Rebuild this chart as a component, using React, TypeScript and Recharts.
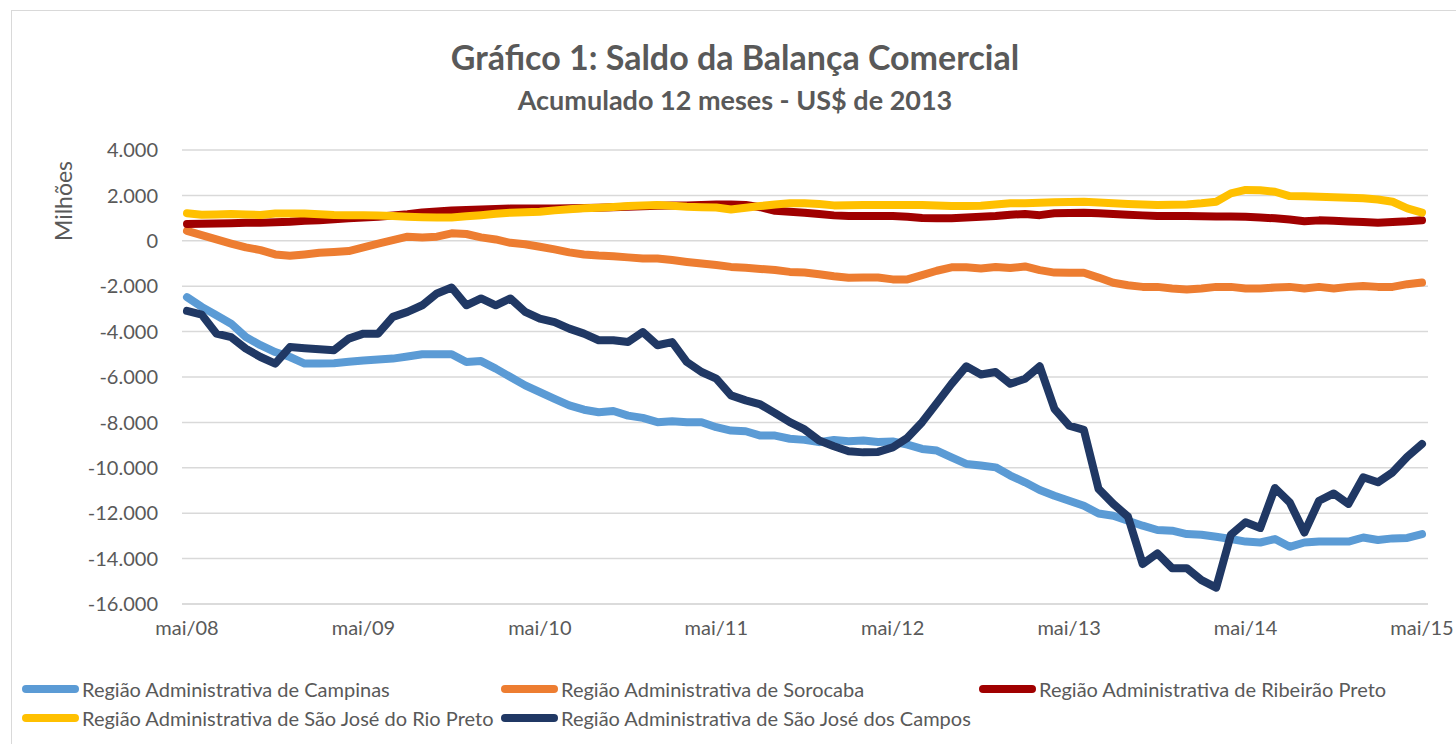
import React from 'react';
import { LineChart, Line, XAxis, YAxis, CartesianGrid } from 'recharts';

const MESES = ['jan', 'fev', 'mar', 'abr', 'mai', 'jun', 'jul', 'ago', 'set', 'out', 'nov', 'dez'];

// mai/08 .. mai/15, mensal
const categorias: string[] = [];
for (let k = 0; k < 85; k++) {
  const m = (4 + k) % 12;
  const a = 8 + Math.floor((4 + k) / 12);
  categorias.push(`${MESES[m]}/${String(a).padStart(2, '0')}`);
}

const yTicks = [-16000, -14000, -12000, -10000, -8000, -6000, -4000, -2000, 0, 2000, 4000];

const campinas = [
  -2480, -2910, -3280, -3650, -4240, -4600, -4900, -5120, -5410, -5400, -5390, -5330, -5270, -5230, -5190, -5100,
  -5000, -5000, -5000, -5340, -5300, -5630, -6000, -6370, -6670, -6960, -7250, -7440, -7550, -7500, -7700, -7800,
  -7990, -7950, -7990, -7990, -8210, -8360, -8390, -8580, -8580, -8720, -8770, -8870, -8770, -8830, -8800, -8860,
  -8840, -8980, -9170, -9240, -9540, -9830, -9900, -9980, -10340, -10640, -10980, -11230, -11450, -11670, -12010,
  -12110, -12330, -12550, -12740, -12770, -12920, -12950, -13040, -13140, -13250, -13290, -13140, -13480, -13290,
  -13250, -13250, -13250, -13070, -13180, -13110, -13090, -12920,
];

const sorocaba = [
  440, 250, 60, -120, -290, -410, -600, -660, -600, -530, -490, -450, -290, -120, 30, 180, 150, 180, 330, 300, 150,
  60, -90, -150, -260, -380, -510, -600, -650, -680, -730, -780, -780, -850, -930, -1000, -1070, -1150, -1190, -1240,
  -1290, -1370, -1400, -1470, -1560, -1630, -1620, -1620, -1700, -1700, -1510, -1320, -1170, -1170, -1220, -1150,
  -1200, -1130, -1290, -1400, -1410, -1410, -1620, -1850, -1960, -2030, -2030, -2100, -2150, -2100, -2030, -2030,
  -2100, -2100, -2060, -2030, -2100, -2030, -2100, -2030, -1990, -2030, -2030, -1910, -1840,
];

const ribeiraoPreto = [
  740, 750, 760, 770, 790, 800, 820, 840, 880, 910, 950, 990, 1030, 1060, 1110, 1170, 1250, 1290, 1340, 1360, 1380,
  1400, 1420, 1420, 1420, 1420, 1430, 1450, 1460, 1480, 1500, 1520, 1540, 1550, 1560, 1580, 1600, 1600, 1580, 1480,
  1320, 1280, 1240, 1180, 1120, 1090, 1090, 1090, 1090, 1060, 1000, 990, 990, 1030, 1060, 1090, 1150, 1180, 1130,
  1210, 1230, 1240, 1210, 1180, 1150, 1120, 1090, 1090, 1090, 1080, 1070, 1070, 1060, 1030, 990, 940, 860, 900, 880,
  850, 830, 790, 830, 860, 910,
];

const rioPreto = [
  1210, 1150, 1160, 1180, 1160, 1140, 1200, 1200, 1200, 1170, 1140, 1130, 1130, 1110, 1090, 1060, 1040, 1030, 1030,
  1080, 1130, 1190, 1240, 1260, 1280, 1340, 1390, 1430, 1460, 1490, 1530, 1560, 1580, 1540, 1500, 1480, 1470, 1380,
  1460, 1530, 1600, 1650, 1650, 1620, 1560, 1570, 1580, 1580, 1580, 1580, 1580, 1560, 1530, 1530, 1540, 1600, 1650,
  1650, 1680, 1700, 1710, 1720, 1690, 1650, 1620, 1600, 1580, 1590, 1600, 1650, 1720, 2090, 2240, 2230, 2160, 1970,
  1960, 1940, 1920, 1900, 1870, 1820, 1720, 1430, 1240,
];

const saoJoseCampos = [
  -3090, -3250, -4090, -4240, -4750, -5120, -5410, -4680, -4730, -4780, -4820, -4310, -4090, -4090, -3350, -3130,
  -2840, -2320, -2060, -2840, -2540, -2840, -2540, -3130, -3430, -3580, -3870, -4090, -4380, -4380, -4460, -4020,
  -4600, -4460, -5340, -5780, -6070, -6810, -7030, -7210, -7590, -7990, -8310, -8800, -9050, -9270, -9320, -9300,
  -9100, -8680, -7990, -7150, -6300, -5530, -5890, -5780, -6300, -6080, -5530, -7400, -8140, -8330, -10930, -11590,
  -12150, -14240, -13770, -14420, -14420, -14950, -15280, -12950, -12400, -12650, -10890, -11520, -12850, -11450,
  -11130, -11590, -10420, -10640, -10200, -9510, -8950,
];

const series = [
  { key: 'campinas', nome: 'Região Administrativa de Campinas', cor: '#5b9bd5', valores: campinas },
  { key: 'sorocaba', nome: 'Região Administrativa de Sorocaba', cor: '#ed7d31', valores: sorocaba },
  { key: 'ribeirao', nome: 'Região Administrativa de Ribeirão Preto', cor: '#a00000', valores: ribeiraoPreto },
  { key: 'rioPreto', nome: 'Região Administrativa de São José do Rio Preto', cor: '#ffc000', valores: rioPreto },
  { key: 'campos', nome: 'Região Administrativa de São José dos Campos', cor: '#203864', valores: saoJoseCampos },
];

const data = categorias.map((mes, i) => {
  const row: Record<string, string | number> = { mes };
  series.forEach((s) => {
    row[s.key] = s.valores[i];
  });
  return row;
});

const fmt = (v: number) => {
  const s = String(Math.abs(v)).replace(/\B(?=(\d{3})+(?!\d))/g, '.');
  return v < 0 ? '-' + s : s;
};

const FONT = 'Lato, "Open Sans", sans-serif';
const GRAY = '#595959';

// posições das entradas da legenda (duas linhas, três colunas)
const legendPos = [
  { left: 22, top: 677 },
  { left: 501, top: 677 },
  { left: 979, top: 677 },
  { left: 22, top: 706 },
  { left: 501, top: 706 },
];

export default function App() {
  return (
    <div
      style={{
        position: 'absolute',
        left: 0,
        top: 0,
        width: 1456,
        height: 744,
        overflow: 'hidden',
        background: '#fff',
        fontFamily: FONT,
      }}
    >
      <div
        style={{
          position: 'absolute',
          left: 11,
          top: 10,
          width: 1460,
          height: 760,
          border: '1px solid #d9d9d9',
        }}
      />
      <div
        style={{
          position: 'absolute',
          left: 0,
          width: 1470,
          top: 38,
          textAlign: 'center',
          fontSize: 34,
          fontWeight: 700,
          color: GRAY,
          lineHeight: '38px',
        }}
      >
        Gráfico 1: Saldo da Balança Comercial
      </div>
      <div
        style={{
          position: 'absolute',
          left: 0,
          width: 1470,
          top: 84,
          textAlign: 'center',
          fontSize: 27,
          fontWeight: 700,
          color: GRAY,
          lineHeight: '32px',
        }}
      >
        Acumulado 12 meses - US$ de 2013
      </div>
      <div
        style={{
          position: 'absolute',
          left: 63,
          top: 201,
          transform: 'translate(-50%, -50%) rotate(-90deg)',
          fontSize: 23,
          color: GRAY,
          whiteSpace: 'nowrap',
        }}
      >
        Milhões
      </div>

      <div style={{ position: 'absolute', left: 0, top: 0 }}>
        <LineChart width={1456} height={744} data={data} margin={{ top: 150, right: 28, bottom: 100, left: 82 }}>
          <CartesianGrid vertical={false} stroke="#d9d9d9" strokeWidth={1.5} />
          <XAxis
            dataKey="mes"
            interval={11}
            height={40}
            axisLine={{ stroke: '#d9d9d9', strokeWidth: 1.5 }}
            tickLine={false}
            tickSize={0}
            tickMargin={17}
            padding={{ left: 5, right: 6 }}
            tick={{ fill: GRAY, fontSize: 20, fontFamily: FONT }}
          />
          <YAxis
            width={100}
            domain={[-16000, 4000]}
            ticks={yTicks}
            tickFormatter={fmt}
            axisLine={false}
            tickLine={false}
            tickSize={0}
            tickMargin={24}
            tick={{ fill: GRAY, fontSize: 20, fontFamily: FONT }}
          />
          {series.map((s) => (
            <Line
              key={s.key}
              type="linear"
              dataKey={s.key}
              name={s.nome}
              stroke={s.cor}
              strokeWidth={8}
              strokeLinecap="round"
              strokeLinejoin="round"
              dot={false}
              activeDot={false}
              isAnimationActive={false}
            />
          ))}
        </LineChart>
      </div>

      {series.map((s, i) => (
        <div
          key={s.key}
          style={{
            position: 'absolute',
            left: legendPos[i].left,
            top: legendPos[i].top,
            display: 'flex',
            alignItems: 'center',
            height: 24,
            fontSize: 20,
            color: GRAY,
            whiteSpace: 'nowrap',
          }}
        >
          <span
            style={{
              display: 'inline-block',
              width: 57,
              height: 8,
              borderRadius: 4,
              background: s.cor,
              marginRight: 3,
            }}
          />
          {s.nome}
        </div>
      ))}
    </div>
  );
}
